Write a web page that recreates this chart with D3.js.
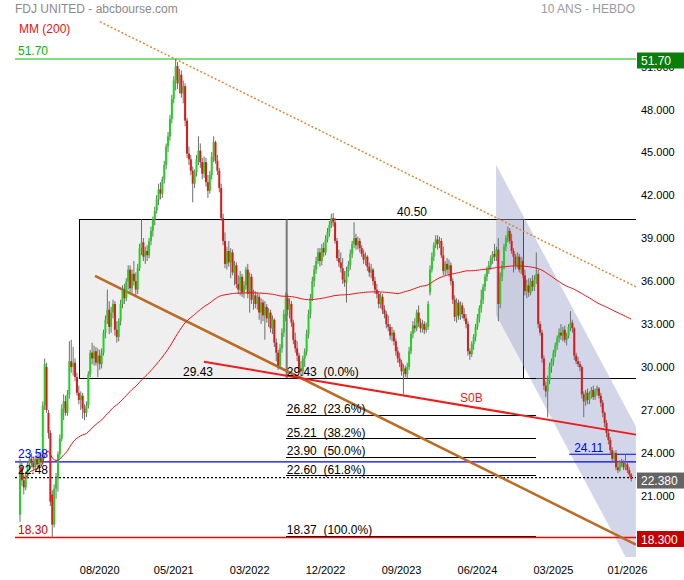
<!DOCTYPE html>
<html>
<head>
<meta charset="utf-8">
<script src="https://cdn.jsdelivr.net/npm/d3@7"></script>
<style>
  body { margin: 0; background: #fff; }
  svg { display: block; font-family: Arial, "Liberation Sans", sans-serif; }
  .pre { white-space: pre; }
</style>
</head>
<body>
<svg id="chart" width="684" height="580"></svg>
<script>
// weekly candles, FDJ United
const opens = [
  19.9,23.2,22.3,21.8,22.6,23.4,23.8,23.5,23.2,23.8,
  23.4,23.9,23.6,27.5,30.2,27.0,25.6,21.3,19.2,21.7,
  22.4,24.1,25.2,27.3,27.8,27.0,28.3,30.6,30.2,30.5,
  29.5,28.4,27.9,28.2,27.3,27.0,27.5,29.7,31.2,30.8,
  31.3,30.5,31.0,30.4,31.2,32.6,33.5,34.2,33.0,34.0,
  34.6,32.8,32.3,33.4,34.6,35.6,35.0,36.2,37.0,35.7,
  36.7,36.2,35.6,37.1,38.5,38.9,37.9,38.3,38.0,39.0,
  39.7,40.5,41.1,41.9,42.6,42.3,43.3,44.3,45.6,46.3,
  47.5,48.9,50.2,51.2,50.0,50.6,49.3,49.8,47.4,45.1,
  44.7,43.9,43.0,43.8,44.7,45.3,44.5,43.7,44.5,43.1,
  42.5,43.6,44.9,45.9,44.6,43.9,42.7,40.6,39.0,37.4,
  38.3,37.5,38.2,36.8,37.3,36.0,35.6,36.5,35.4,35.9,
  37.0,35.3,36.5,34.9,35.2,34.6,35.1,34.0,34.7,33.8,
  34.4,33.6,34.0,32.9,33.5,31.9,31.2,30.3,31.5,32.6,
  33.9,35.0,34.2,34.6,33.3,32.1,31.5,31.0,30.1,29.9,
  30.8,31.3,32.5,33.9,35.0,36.2,37.0,37.6,38.2,37.6,
  38.5,38.2,39.1,39.6,40.1,40.6,40.3,39.0,37.8,37.5,
  37.1,36.3,36.1,36.9,37.3,38.1,38.8,39.2,38.7,39.0,
  38.5,38.1,37.7,37.9,37.2,36.8,37.0,36.2,35.6,35.3,
  34.6,35.1,34.2,33.9,33.2,33.0,32.4,32.6,32.0,31.3,
  30.8,30.5,29.9,30.1,29.7,30.2,31.3,32.5,33.1,32.9,
  34.0,33.3,32.9,33.2,32.8,33.0,35.4,37.0,37.9,38.7,
  39.1,38.8,39.0,38.0,36.9,37.4,37.0,37.3,36.2,34.9,
  33.7,34.7,33.8,34.5,33.9,33.6,33.2,31.3,31.1,31.8,
  32.3,33.0,33.6,34.3,34.9,35.8,36.5,37.0,37.3,37.8,
  38.1,37.9,38.4,34.6,36.5,37.3,38.6,39.2,39.7,39.0,
  38.3,37.9,37.3,37.9,37.0,37.6,36.6,35.5,35.9,35.4,
  36.2,35.8,36.3,36.7,33.2,32.6,30.8,28.9,28.5,29.3,
  30.2,30.6,31.2,31.7,32.2,32.6,32.4,32.8,32.1,32.4,
  33.0,33.3,32.9,31.0,30.6,30.4,30.2,28.3,27.8,28.4,
  27.9,28.3,28.6,28.1,28.5,28.7,28.2,27.7,27.0,26.3,
  25.6,25.1,24.4,23.8,24.2,23.2,23.0,23.6,23.5,23.2,
  23.4,23.0,22.7
];
const highs = [
  23.8,23.6,22.8,22.9,23.6,24.0,24.2,23.9,24.0,24.1,
  24.2,24.3,27.8,30.8,30.5,27.2,25.8,21.6,22.0,22.8,
  24.3,25.5,27.6,28.3,28.2,28.6,32.0,32.1,31.6,30.8,
  29.8,28.9,28.5,28.4,27.6,27.8,29.9,31.4,31.9,31.7,
  31.6,31.5,31.4,31.5,32.8,33.8,35.6,34.8,34.4,34.9,
  34.8,33.4,33.6,34.9,35.9,36.0,36.4,37.3,37.3,37.0,
  37.6,36.8,37.4,38.8,40.5,39.2,38.6,38.7,39.2,40.0,
  40.7,41.4,42.2,43.0,43.1,43.5,44.6,45.8,46.6,47.8,
  49.2,50.5,51.7,51.5,51.0,50.9,50.2,50.0,47.6,45.6,
  45.0,44.2,44.0,45.0,46.3,45.8,44.8,44.9,44.8,43.6,
  43.9,45.2,46.3,46.0,45.0,44.1,43.0,40.9,39.6,38.6,
  39.0,38.5,38.4,37.6,37.5,36.6,36.9,36.7,36.2,37.2,
  37.4,36.8,36.7,35.6,35.5,35.4,35.3,35.0,34.9,34.8,
  34.6,34.3,34.2,33.8,33.6,32.2,31.4,31.8,32.9,34.2,
  35.4,35.3,35.0,34.8,33.5,32.6,32.0,31.2,30.6,31.0,
  31.5,32.8,34.2,35.3,36.5,37.3,37.9,38.5,38.5,38.8,
  38.9,39.4,39.9,40.4,40.9,40.95,40.6,39.2,38.4,38.2,
  37.8,36.9,37.2,37.6,38.4,39.0,40.3,39.5,39.3,39.2,
  38.7,38.4,38.2,38.0,37.5,37.4,37.1,36.5,36.0,35.5,
  35.4,35.3,34.5,34.1,33.8,33.2,33.0,32.8,32.2,31.6,
  31.2,30.7,30.4,30.3,30.5,31.6,32.7,33.4,33.6,34.2,
  34.5,33.6,33.5,33.4,33.3,34.8,37.3,38.2,38.9,39.4,
  39.4,39.3,39.2,38.6,37.6,37.8,37.7,37.5,36.4,35.2,
  35.0,34.9,34.8,34.7,34.3,33.9,33.4,31.5,32.0,32.5,
  33.2,33.9,34.5,35.6,36.0,36.7,37.2,37.6,38.0,38.3,
  38.8,38.6,39.2,36.8,37.6,38.8,39.4,40.0,39.9,39.5,
  38.5,38.1,38.2,38.1,37.9,37.8,37.0,36.3,36.4,36.4,
  36.6,36.6,38.2,37.0,33.4,32.8,31.0,29.2,29.6,30.5,
  30.8,31.4,31.9,32.4,32.9,33.2,33.0,33.1,32.6,33.2,
  34.1,33.5,33.0,31.2,30.9,30.6,30.3,28.5,28.6,28.7,
  28.5,28.8,28.9,28.7,28.9,28.8,28.4,27.9,27.1,26.5,
  25.8,25.3,24.6,24.3,24.4,23.5,23.7,23.8,23.7,24.1,
  23.6,23.2,22.8
];
const lows = [
  19.4,21.9,21.3,21.6,22.4,23.0,23.2,23.0,23.0,23.2,
  23.2,23.3,23.4,27.2,27.0,25.2,20.5,18.3,19.0,21.0,
  21.5,23.8,25.0,26.5,26.8,26.8,28.0,29.8,29.6,29.2,
  28.2,27.6,27.2,26.6,26.5,26.7,27.3,29.5,30.4,30.3,
  30.3,29.5,30.0,30.1,31.0,32.2,33.2,32.5,32.6,33.6,
  32.4,31.9,32.0,33.1,34.3,34.6,34.8,35.6,35.4,35.4,
  35.9,35.2,35.3,36.9,38.0,37.6,37.4,37.6,37.8,38.7,
  39.3,40.1,40.9,41.5,41.9,42.0,43.0,44.0,45.2,46.0,
  47.2,48.6,49.5,49.6,49.3,49.0,48.6,47.0,44.8,44.3,
  43.6,41.7,42.7,43.5,44.3,44.1,43.3,43.4,42.8,42.0,
  42.3,43.3,44.5,44.4,43.6,42.4,40.4,38.7,37.1,37.0,
  37.2,36.4,36.6,35.9,35.7,35.3,35.2,35.1,35.0,35.6,
  35.0,34.0,34.6,34.2,34.3,34.2,33.5,33.2,33.4,32.1,
  33.3,33.0,32.6,32.5,31.6,30.6,30.0,30.1,31.2,32.3,
  33.4,33.8,33.6,33.0,31.8,31.2,30.6,29.8,29.43,29.6,
  30.2,31.0,32.2,33.6,34.8,35.8,36.7,37.4,37.2,37.3,
  37.9,38.0,38.9,39.3,39.9,40.0,38.8,37.6,37.2,36.8,
  36.0,35.8,34.7,36.5,37.0,37.8,38.5,38.4,38.4,38.2,
  37.9,37.4,37.3,36.9,36.5,36.4,35.9,35.3,35.0,34.3,
  34.3,33.9,33.6,32.9,32.7,32.1,32.0,31.7,31.0,30.5,
  30.2,29.6,28.3,29.5,29.4,30.0,31.1,32.2,32.6,32.7,
  33.0,32.6,32.6,32.5,32.6,32.8,35.2,36.8,37.6,38.5,
  38.4,38.5,37.8,36.6,36.6,36.7,36.5,35.9,34.6,33.4,
  33.3,33.5,33.5,33.6,33.4,32.9,31.0,30.7,30.9,31.4,
  32.0,32.8,33.3,34.0,34.6,35.5,36.2,36.7,37.0,37.4,
  37.6,37.6,33.4,34.3,36.2,37.0,38.3,38.9,38.8,38.1,
  36.8,37.0,37.1,36.8,36.7,36.4,35.2,35.0,35.1,35.2,
  35.5,35.5,36.0,32.9,32.4,30.5,28.6,28.1,26.7,29.0,
  29.8,30.3,30.9,31.4,31.9,32.1,32.0,31.9,31.7,32.2,
  32.7,32.6,30.7,30.4,30.2,29.9,28.0,26.7,27.5,27.6,
  27.6,28.0,27.9,27.9,28.2,28.0,27.4,26.7,26.0,25.3,
  24.8,24.1,23.6,23.5,23.0,22.8,22.9,23.2,23.0,23.0,
  22.8,22.5,22.2
];
const closes = [
  23.2,22.3,21.8,22.6,23.4,23.8,23.5,23.2,23.8,23.4,
  23.9,23.6,27.5,30.4,27.2,25.6,20.8,19.2,21.7,22.4,
  24.1,25.2,27.3,27.8,27.0,28.3,30.6,30.2,30.5,29.5,
  28.4,27.9,28.2,27.3,27.0,27.5,29.7,31.2,30.8,31.3,
  30.5,31.0,30.4,31.2,32.6,33.5,34.2,33.0,34.0,34.6,
  32.8,32.3,33.4,34.6,35.6,35.0,36.2,37.0,35.7,36.7,
  36.2,35.6,37.1,38.5,38.9,37.9,38.3,38.0,39.0,39.7,
  40.5,41.1,41.9,42.6,42.3,43.3,44.3,45.6,46.3,47.5,
  48.9,50.2,51.2,50.0,50.6,49.3,49.8,47.4,45.1,44.7,
  43.9,43.0,43.8,44.7,45.3,44.5,43.7,44.5,43.1,42.5,
  43.6,44.9,45.9,44.6,43.9,42.7,40.6,39.0,37.4,38.3,
  37.5,38.2,36.8,37.3,36.0,35.6,36.5,35.4,35.9,37.0,
  35.3,36.5,34.9,35.2,34.6,35.1,34.0,34.7,33.8,34.4,
  33.6,34.0,32.9,33.5,31.9,31.2,30.3,31.5,32.6,33.9,
  35.0,34.2,34.6,33.3,32.1,31.5,31.0,30.1,29.9,30.8,
  31.3,32.5,33.9,35.0,36.2,37.0,37.6,38.2,37.6,38.5,
  38.2,39.1,39.6,40.1,40.6,40.3,39.0,37.8,37.5,37.1,
  36.3,36.1,36.9,37.3,38.1,38.8,39.2,38.7,39.0,38.5,
  38.1,37.7,37.9,37.2,36.8,37.0,36.2,35.6,35.3,34.6,
  35.1,34.2,33.9,33.2,33.0,32.4,32.6,32.0,31.3,30.8,
  30.5,29.9,30.1,29.7,30.2,31.3,32.5,33.1,32.9,34.0,
  33.3,32.9,33.2,32.8,33.0,34.6,37.0,37.9,38.7,39.1,
  38.8,39.0,38.0,36.9,37.4,37.0,37.3,36.2,34.9,33.7,
  34.7,33.8,34.5,33.9,33.6,33.2,31.3,31.1,31.8,32.3,
  33.0,33.6,34.3,34.9,35.8,36.5,37.0,37.3,37.8,38.1,
  37.9,38.4,34.6,36.5,37.3,38.6,39.2,39.7,39.0,38.3,
  37.9,37.3,37.9,37.0,37.6,36.6,35.5,35.9,35.4,36.2,
  35.8,36.3,36.7,33.2,32.6,30.8,28.9,28.5,29.3,30.2,
  30.6,31.2,31.7,32.2,32.6,32.4,32.8,32.1,32.4,33.0,
  33.3,32.9,31.0,30.6,30.4,30.2,28.3,27.8,28.4,27.9,
  28.3,28.6,28.1,28.5,28.7,28.2,27.7,27.0,26.3,25.6,
  25.1,24.4,23.8,24.2,23.2,23.0,23.6,23.5,23.2,23.4,
  23.0,22.7,22.38
];

// x axis: bar index of each labelled tick
const xTickBars = [42, 81, 121, 161, 201, 241, 281, 320];
const xTickLabels = ["08/2020", "05/2021", "03/2022", "12/2022", "09/2023", "06/2024", "03/2025", "01/2026"];
const yTicks = [21, 24, 27, 30, 33, 36, 39, 42, 45, 48, 51];

// horizontal levels
const levelValues = [51.70, 23.58, 22.48, 18.30];
const levelLabels = ["51.70", "23.58", "22.48", "18.30"];
const lastPrice = 22.38;

// range box: prices and bar indices (left edge, split, right edge)
const boxPrices = [40.50, 29.43];
const boxBars = [31.6, 140.5, 265.5];

// fibonacci retracement
const fibValues = [29.43, 26.82, 25.21, 23.90, 22.60, 18.37];
const fibPercents = ["0.0%", "23.6%", "38.2%", "50.0%", "61.8%", "100.0%"];
const fibBars = [140, 272];

// drawn lines: [bar index, price]
const trendBrown = [[39.5, 36.57], [324.5, 17.81]];
const trendSupport = [[96.9, 30.57], [324.5, 25.48]];
const trendDotted = [[42.1, 54.3], [324.5, 35.8]];
const channelUpper = [[250.8, 44.31], [324.5, 26.04]];
const channelLower = [[250.8, 33.85], [324.5, 15.58]];
const shortLevel = { value: 24.11, from: 289.3 };

const N = closes.length;
const plot = { left: 15, right: 636, top: 15, bottom: 557 };

const x = d3.scaleLinear().domain([0, N - 1]).range([20, 631.2]);
const y = d3.scaleLinear().domain([18.30, 51.70]).range([537.5, 59]);

// MM(200): average of the available closes, 200 bars once there are enough
const ma = closes.map((c, i) => d3.mean(closes.slice(Math.max(0, i - 199), i + 1)));

const svg = d3.select("#chart");

svg.append("defs").append("clipPath").attr("id", "clip")
  .append("rect")
  .attr("x", plot.left).attr("y", plot.top)
  .attr("width", plot.right - plot.left)
  .attr("height", plot.bottom - plot.top);

const g = svg.append("g").attr("clip-path", "url(#clip)");

// grey range box
g.append("rect")
  .attr("x", x(boxBars[0]))
  .attr("y", y(boxPrices[0]))
  .attr("width", x(boxBars[2]) - x(boxBars[0]))
  .attr("height", y(boxPrices[1]) - y(boxPrices[0]))
  .attr("fill", "#efefef")
  .attr("stroke", "#000")
  .attr("shape-rendering", "crispEdges");

boxPrices.forEach((p) => {
  g.append("line")
    .attr("x1", x(boxBars[2])).attr("x2", plot.right)
    .attr("y1", y(p)).attr("y2", y(p))
    .attr("stroke", "#000")
    .attr("shape-rendering", "crispEdges");
});

g.append("line")
  .attr("x1", x(boxBars[1])).attr("x2", x(boxBars[1]))
  .attr("y1", y(boxPrices[0])).attr("y2", y(boxPrices[1]))
  .attr("stroke", "#7a7a7a")
  .attr("stroke-width", 2);

// falling channel
const channelPts = channelUpper.concat(channelLower.slice().reverse());
g.append("polygon")
  .attr("points", channelPts.map((d) => [x(d[0]), y(d[1])].join(",")).join(" "))
  .attr("fill", "#9ea3cf")
  .attr("fill-opacity", 0.45);

// fibonacci lines
fibValues.forEach((v) => {
  g.append("line")
    .attr("x1", x(fibBars[0])).attr("x2", x(fibBars[1]))
    .attr("y1", y(v)).attr("y2", y(v))
    .attr("stroke", "#000")
    .attr("shape-rendering", "crispEdges");
});

// full width levels
const levelColors = ["#00c000", "#0000ff", "#000000", "#ff0000"];
levelValues.forEach((v, i) => {
  g.append("line")
    .attr("x1", plot.left).attr("x2", plot.right)
    .attr("y1", y(v)).attr("y2", y(v))
    .attr("stroke", levelColors[i])
    .attr("stroke-width", i === 3 ? 1.5 : 1.2)
    .attr("stroke-dasharray", i === 2 ? "2,2" : null);
});

g.append("line")
  .attr("x1", x(shortLevel.from)).attr("x2", plot.right)
  .attr("y1", y(shortLevel.value)).attr("y2", y(shortLevel.value))
  .attr("stroke", "#0000ff");

const seg = d3.line().x((d) => x(d[0])).y((d) => y(d[1]));

g.append("path").attr("d", seg(trendBrown))
  .attr("fill", "none").attr("stroke", "#bb6b22").attr("stroke-width", 2.5);
g.append("path").attr("d", seg(trendSupport))
  .attr("fill", "none").attr("stroke", "#ee1c1c").attr("stroke-width", 2);
g.append("path").attr("d", seg(trendDotted))
  .attr("fill", "none").attr("stroke", "#e0873a").attr("stroke-width", 1.5)
  .attr("stroke-dasharray", "2,2");

// candles
const bars = d3.range(N).map((i) => ({
  i, o: opens[i], h: highs[i], l: lows[i], c: closes[i],
}));

const candle = g.append("g").selectAll("g").data(bars).join("g");

candle.append("line")
  .attr("x1", (d) => x(d.i)).attr("x2", (d) => x(d.i))
  .attr("y1", (d) => y(d.h)).attr("y2", (d) => y(d.l))
  .attr("stroke", "#6e6e6e")
  .attr("stroke-width", 1);

candle.append("rect")
  .attr("x", (d) => x(d.i) - 1)
  .attr("width", 2)
  .attr("y", (d) => y(Math.max(d.o, d.c)))
  .attr("height", (d) => Math.max(1, Math.abs(y(d.o) - y(d.c))))
  .attr("fill", (d) => (d.c >= d.o ? "#1fd31f" : "#e01818"));

// moving average
g.append("path")
  .datum(ma)
  .attr("d", d3.line().x((d, i) => x(i)).y((d) => y(d)))
  .attr("fill", "none")
  .attr("stroke", "#ee1111")
  .attr("stroke-width", 1);

// texts on the chart
const txt = svg.append("g").attr("font-size", 12);

txt.append("text").attr("x", 15).attr("y", 13)
  .attr("fill", "#8a8a8a").text("FDJ UNITED - abcbourse.com");
txt.append("text").attr("x", 19).attr("y", 33)
  .attr("fill", "#ee1111").text("MM (200)");
txt.append("text").attr("x", 635).attr("y", 13).attr("text-anchor", "end")
  .attr("fill", "#9a9a9a").text("10 ANS - HEBDO");

const levelTextColors = ["#00bb00", "#0000ff", "#000", "#cc0000"];
levelValues.forEach((v, i) => {
  txt.append("text")
    .attr("x", 18).attr("y", y(v) - 4)
    .attr("fill", levelTextColors[i])
    .text(levelLabels[i]);
});

txt.append("text").attr("x", x(shortLevel.from) + 5).attr("y", y(shortLevel.value) - 2)
  .attr("fill", "#0000ff").text(shortLevel.value.toFixed(2));

txt.append("text").attr("x", 397).attr("y", y(boxPrices[0]) - 3)
  .attr("fill", "#000").text(boxPrices[0].toFixed(2));
txt.append("text").attr("x", 183).attr("y", y(boxPrices[1]) - 2)
  .attr("fill", "#000").text(boxPrices[1].toFixed(2));

fibValues.forEach((v, i) => {
  txt.append("text")
    .attr("class", "pre")
    .attr("x", x(fibBars[0]) + 1).attr("y", y(v) - 2)
    .attr("fill", "#000")
    .text(`${v.toFixed(2)}  (${fibPercents[i]})`);
});

txt.append("text").attr("x", 460).attr("y", 402)
  .attr("fill", "#ee1c1c").text("S0B");

// right axis
const yAxis = svg.append("g").attr("font-size", 11);
yTicks.forEach((t) => {
  yAxis.append("text")
    .attr("x", 641).attr("y", y(t) + 1.5)
    .attr("fill", "#000")
    .text(d3.format(".3f")(t));
});

const tags = [
  { v: levelValues[0], label: "51.70", fill: "#0a7d0a" },
  { v: lastPrice, label: d3.format(".3f")(lastPrice), fill: "#646464" },
  { v: levelValues[3], label: d3.format(".3f")(levelValues[3]), fill: "#c40000" },
];
tags.forEach((t) => {
  const cy = y(t.v) + 1.5;
  svg.append("rect")
    .attr("x", 637).attr("y", cy - 8)
    .attr("width", 47).attr("height", 16)
    .attr("fill", t.fill);
  svg.append("text")
    .attr("x", 641).attr("y", cy + 4.5)
    .attr("font-size", 12)
    .attr("fill", "#fff")
    .text(t.label);
});

// bottom axis
const xAxis = svg.append("g").attr("font-size", 11);
xTickBars.forEach((b, i) => {
  xAxis.append("text")
    .attr("x", x(b)).attr("y", 574)
    .attr("text-anchor", "middle")
    .attr("fill", "#000")
    .text(xTickLabels[i]);
});
</script>
</body>
</html>
